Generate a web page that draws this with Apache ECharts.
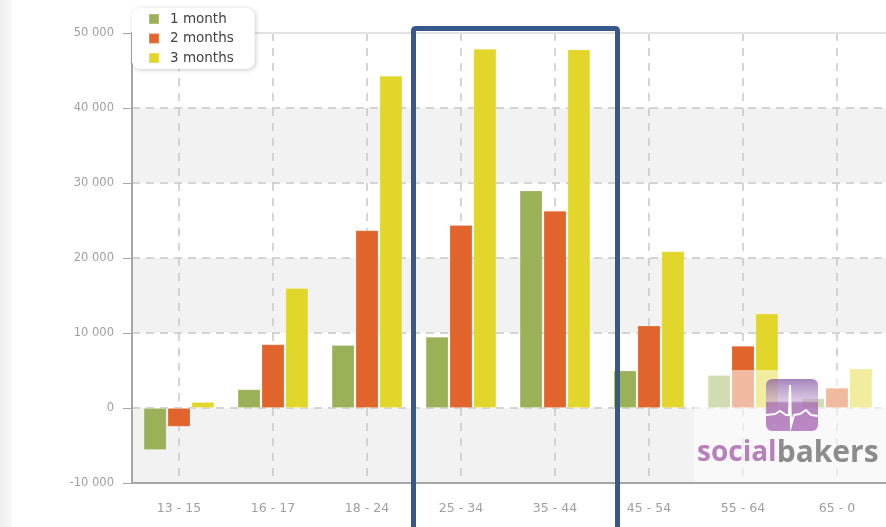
<!DOCTYPE html>
<html>
<head>
<meta charset="utf-8">
<style>
  html, body { margin: 0; padding: 0; background: #fff; overflow: hidden; }
  #chart { width: 886px; height: 527px; filter: blur(0.5px); }
</style>
<script src="https://cdn.jsdelivr.net/npm/echarts@6/dist/echarts.min.js"></script>
</head>
<body>
<div id="chart"></div>
<script>
const categories = ["13 - 15", "16 - 17", "18 - 24", "25 - 34", "35 - 44", "45 - 54", "55 - 64", "65 - 0"];
const month1 = [-5600, 2500, 8400, 9500, 29000, 5000, 4400, 1300];
const month2 = [-2500, 8500, 23700, 24400, 26300, 11000, 8300, 2700];
const month3 = [800, 16000, 44300, 47900, 47800, 20900, 12600, 5200];
const seriesNames = ["1 month", "2 months", "3 months"];

const chart = echarts.init(document.getElementById("chart"));
const font = "DejaVu Sans";

function barSeries(name, data, color) {
  return {
    name: name,
    type: "bar",
    data: data,
    barWidth: 23,
    barGap: "4%",
    itemStyle: { color: color, borderColor: "rgba(255, 255, 255, 0.2)", borderWidth: 1 },
  };
}

// the shaded bands run on to the picture's right edge
function bandEnd(y) {
  return { type: "rect", z: 0, shape: { x: 884, y: y, width: 2, height: 75 }, style: { fill: "#f2f2f2" } };
}

chart.setOption({
  animation: false,
  backgroundColor: "#ffffff",
  grid: { left: 132, right: 2, top: 33, bottom: 44 },
  legend: {
    left: 132,
    top: 8,
    orient: "vertical",
    data: seriesNames,
    icon: "rect",
    itemWidth: 10,
    itemHeight: 10,
    itemGap: 5.5,
    padding: [4, 21, 4, 16],
    backgroundColor: "#ffffff",
    borderRadius: 8,
    shadowColor: "rgba(0, 0, 0, 0.2)",
    shadowBlur: 4,
    shadowOffsetX: 1,
    shadowOffsetY: 1,
    textStyle: { color: "#444444", fontFamily: font, fontSize: 13.5, padding: [0, 0, 0, 6] },
  },
  xAxis: {
    type: "category",
    data: categories,
    axisLine: { onZero: false, lineStyle: { color: "#a6a6a6", width: 2 } },
    axisTick: { alignWithLabel: true, length: 9, lineStyle: { color: "#a6a6a6", width: 1 } },
    axisLabel: { color: "#a0a0a0", fontFamily: font, fontSize: 12.5, margin: 19 },
    splitLine: {
      show: true,
      alignWithLabel: true,
      lineStyle: { color: "#c8c8c8", type: [8, 7], width: 1.5 },
    },
  },
  yAxis: {
    type: "value",
    min: -10000,
    max: 50000,
    interval: 10000,
    axisLine: { show: true, lineStyle: { color: "#a6a6a6", width: 2 } },
    axisTick: { show: true, length: 9, lineStyle: { color: "#a6a6a6", width: 1 } },
    axisLabel: {
      color: "#a0a0a0",
      fontFamily: font,
      fontSize: 11.5,
      margin: 18,
      formatter: (v) => String(v).replace(/(\d)(?=\d{3}$)/, "$1 "),
    },
    splitLine: { lineStyle: { color: "#d4d4d4", type: [8, 6], width: 2 } },
    splitArea: { show: true, areaStyle: { color: ["#f2f2f2", "#ffffff"] } },
  },
  series: [
    barSeries(seriesNames[0], month1, "#9ab158"),
    barSeries(seriesNames[1], month2, "#e0642b"),
    barSeries(seriesNames[2], month3, "#e2d62a"),
  ],
  graphic: [
    // page edge on the left
    {
      type: "rect",
      z: 1,
      shape: { x: 0, y: 0, width: 12, height: 527 },
      style: {
        fill: new echarts.graphic.LinearGradient(0, 0, 1, 0, [
          { offset: 0, color: "#efefef" },
          { offset: 1, color: "#f8f8f8" },
        ]),
      },
    },
    bandEnd(108),
    bandEnd(258),
    bandEnd(408),
    { type: "line", z: 1, shape: { x1: 132, y1: 33, x2: 886, y2: 33 }, style: { stroke: "#e2e2e2", lineWidth: 2 } },
    { type: "line", z: 1, shape: { x1: 884, y1: 483, x2: 886, y2: 483 }, style: { stroke: "#a6a6a6", lineWidth: 2 } },
    // watermark
    {
      type: "rect",
      z: 50,
      shape: { x: 694, y: 370, width: 192, height: 112 },
      style: { fill: "rgba(255, 255, 255, 0.55)" },
    },
    {
      type: "rect",
      z: 51,
      shape: { x: 766, y: 379, width: 52, height: 52, r: 6 },
      style: {
        fill: new echarts.graphic.LinearGradient(0, 0, 0, 1, [
          { offset: 0, color: "rgba(130, 85, 160, 0.72)" },
          { offset: 0.42, color: "rgba(190, 155, 205, 0.55)" },
          { offset: 0.46, color: "rgba(165, 105, 175, 0.8)" },
          { offset: 1, color: "rgba(185, 130, 195, 0.95)" },
        ]),
      },
    },
    {
      type: "polyline",
      z: 52,
      shape: {
        points: [[766, 415], [775, 414], [780, 411], [786, 415], [789, 415], [790, 385], [791, 426], [794, 415], [800, 414], [806, 410], [811, 415], [818, 416]],
      },
      style: { stroke: "#ffffff", fill: "none", lineWidth: 2 },
    },
    {
      type: "text",
      z: 52,
      x: 697,
      y: 438,
      style: {
        text: "{a|social}{b|bakers}",
        rich: {
          a: { fill: "#b87fbd", fontFamily: "Open Sans", fontWeight: "bold", fontSize: 28 },
          b: { fill: "#8c8c8c", fontFamily: "Open Sans", fontWeight: "bold", fontSize: 30 },
        },
      },
    },
    // highlight frame
    {
      type: "rect",
      z: 60,
      shape: { x: 413.5, y: 28.5, width: 204, height: 520, r: 2 },
      style: { fill: "none", stroke: "#36588a", lineWidth: 5 },
    },
  ],
});
</script>
</body>
</html>
